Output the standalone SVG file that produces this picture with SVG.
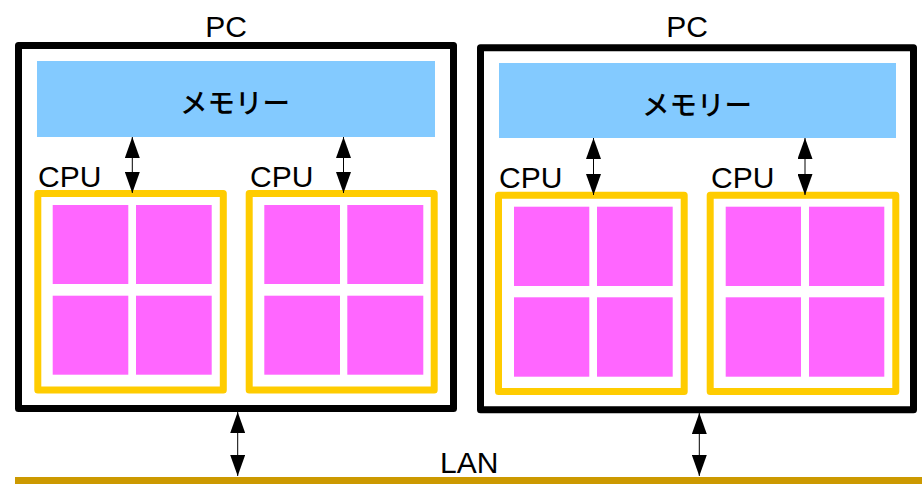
<svg xmlns="http://www.w3.org/2000/svg" width="922" height="486" viewBox="0 0 922 486">
<defs>
<style>
.pc{fill:#fff;stroke:#000;stroke-width:7;stroke-linejoin:round}
.mem{fill:#83caff}
.cpu{fill:#fff;stroke:#ffcc00;stroke-width:7;stroke-linejoin:round}
.core{fill:#ff66ff}
.lbl{font-family:"Liberation Sans",Arial,sans-serif;font-size:30px;fill:#000}
.memt{font-family:"Noto Sans CJK JP","Liberation Sans",sans-serif;font-size:27.5px;font-weight:500;fill:#000;text-anchor:middle}
.conn line{stroke:#000;stroke-width:1;marker-start:url(#ah);marker-end:url(#ah)}
</style>
<marker id="ah" viewBox="0 0 21 15" refX="21" refY="7.5" markerWidth="21" markerHeight="15" markerUnits="userSpaceOnUse" orient="auto-start-reverse">
<path d="M0,0 L21,7.5 L0,15 z" fill="#000"/>
</marker>
</defs>
<rect width="922" height="486" fill="#fff"/>

<g id="pc1">
<rect class="pc" x="18.5" y="45.5" width="435" height="363"/>
<text class="lbl" x="226" y="37" text-anchor="middle">PC</text>
</g>
<g id="mem1">
<rect class="mem" x="37" y="61" width="398" height="76"/>
<text class="memt" x="235" y="113">メモリー</text>
</g>
<g id="cpu1">
<text class="lbl" x="38" y="187">CPU</text>
<rect class="cpu" x="37.8" y="193.5" width="185.5" height="196.5"/>
<rect class="core" x="52.7" y="205" width="75.6" height="79"/>
<rect class="core" x="136" y="205" width="75.7" height="79"/>
<rect class="core" x="52.7" y="295.7" width="75.6" height="79"/>
<rect class="core" x="136" y="295.7" width="75.7" height="79"/>
</g>
<g id="cpu2">
<text class="lbl" x="250" y="187">CPU</text>
<rect class="cpu" x="249.2" y="193.5" width="185" height="196.5"/>
<rect class="core" x="264.3" y="205" width="75.7" height="79"/>
<rect class="core" x="347.3" y="205" width="76" height="79"/>
<rect class="core" x="264.3" y="295.7" width="75.7" height="79"/>
<rect class="core" x="347.3" y="295.7" width="76" height="79"/>
</g>

<g id="pc2">
<rect class="pc" x="480.5" y="47.8" width="433" height="362"/>
<text class="lbl" x="687" y="37" text-anchor="middle">PC</text>
</g>
<g id="mem2">
<rect class="mem" x="499" y="63" width="397" height="75"/>
<text class="memt" x="697" y="115">メモリー</text>
</g>
<g id="cpu3">
<text class="lbl" x="499" y="188">CPU</text>
<rect class="cpu" x="498.5" y="195.2" width="185.7" height="196.3"/>
<rect class="core" x="514" y="206.7" width="75.3" height="79.3"/>
<rect class="core" x="597" y="206.7" width="75.7" height="79.3"/>
<rect class="core" x="514" y="297.3" width="75.3" height="79.4"/>
<rect class="core" x="597" y="297.3" width="75.7" height="79.4"/>
</g>
<g id="cpu4">
<text class="lbl" x="711" y="188">CPU</text>
<rect class="cpu" x="710.2" y="195.2" width="185.6" height="196.3"/>
<rect class="core" x="725.7" y="206.7" width="75.3" height="79.3"/>
<rect class="core" x="809" y="206.7" width="75.3" height="79.3"/>
<rect class="core" x="725.7" y="297.3" width="75.3" height="79.4"/>
<rect class="core" x="809" y="297.3" width="75.3" height="79.4"/>
</g>

<g id="lan">
<rect x="15" y="477" width="907" height="7" fill="#cc9900"/>
<text class="lbl" x="440" y="473">LAN</text>
</g>

<g id="connectors" class="conn">
<line x1="132.3" y1="137" x2="132.3" y2="193"/>
<line x1="343.5" y1="137" x2="343.5" y2="193"/>
<line x1="593.5" y1="138" x2="593.5" y2="195"/>
<line x1="805" y1="138" x2="805" y2="195"/>
<line x1="237.7" y1="412" x2="237.7" y2="476"/>
<line x1="699.3" y1="413" x2="699.3" y2="476"/>
</g>
</svg>
